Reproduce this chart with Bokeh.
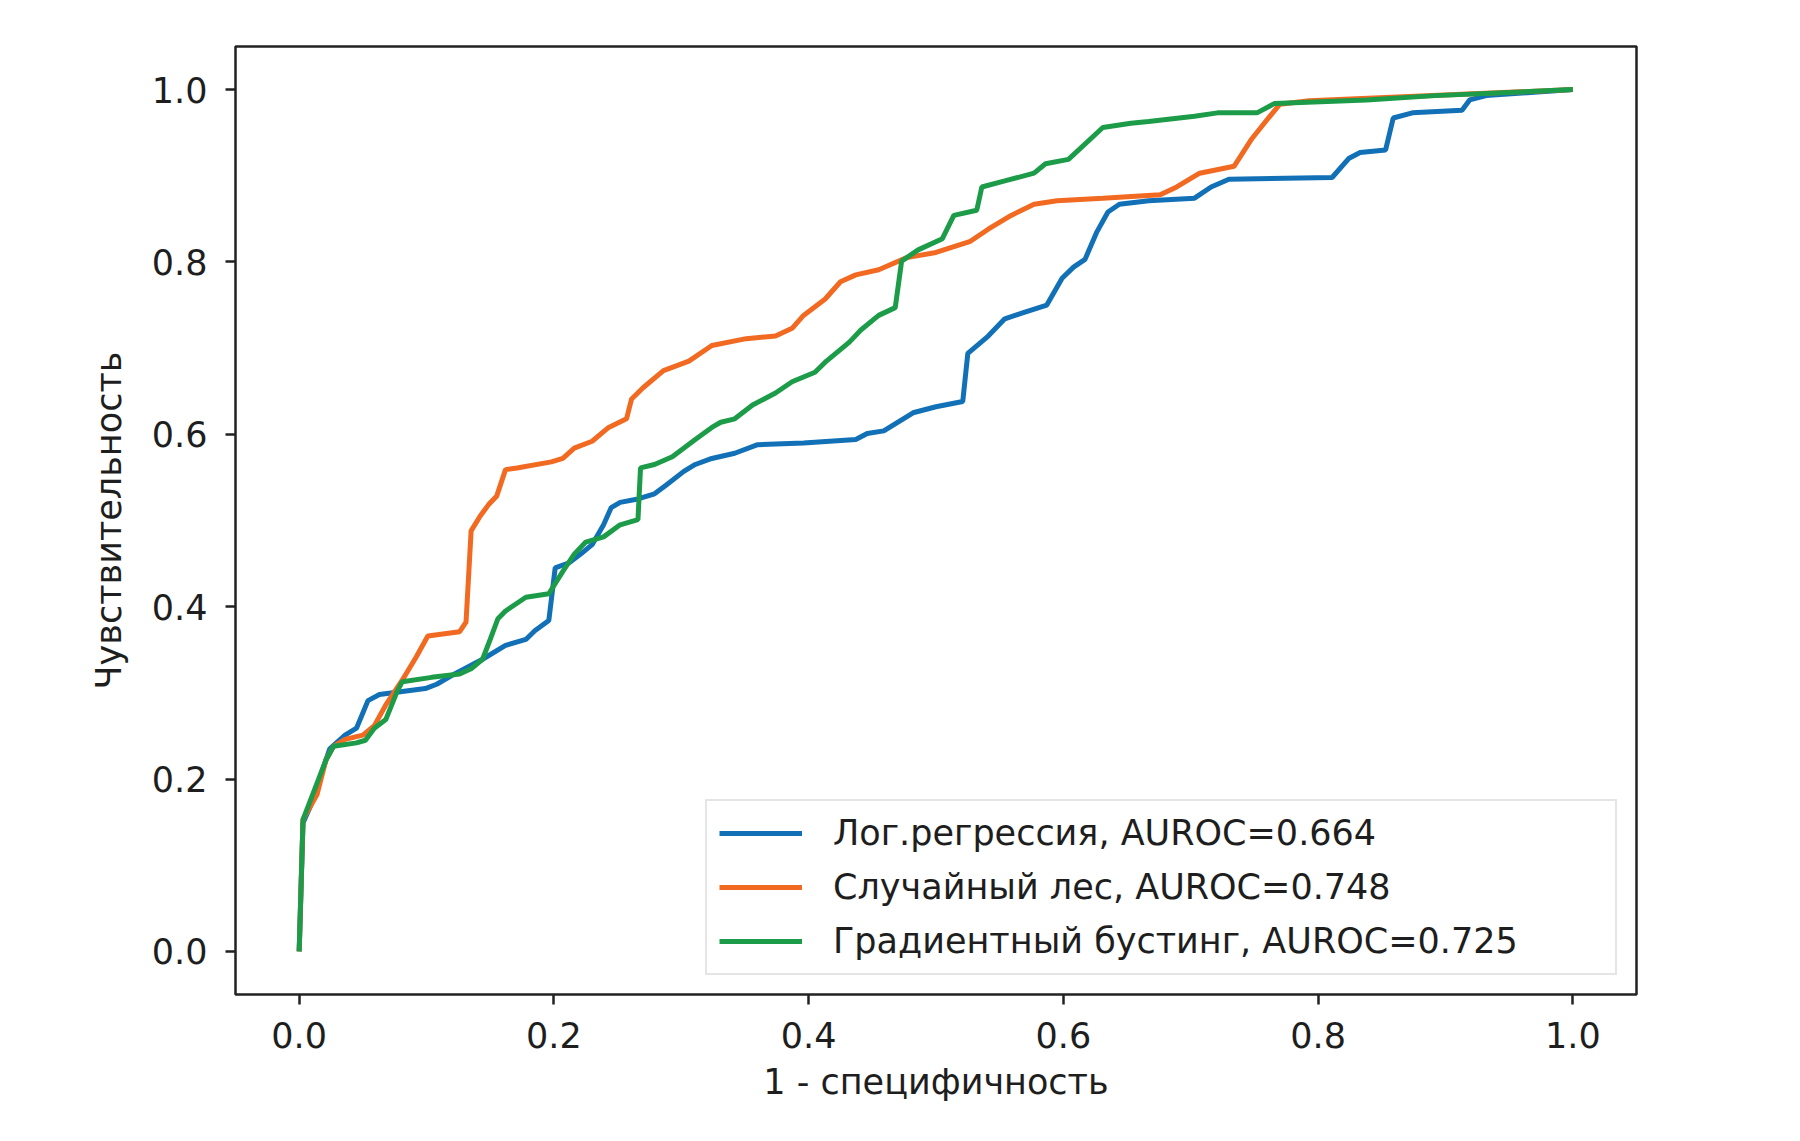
from bokeh.plotting import figure
from bokeh.models import FixedTicker, NumeralTickFormatter
from bokeh.embed import file_html
from bokeh.resources import INLINE

# ---- data ----
lr_fpr = [0.0, 0.003, 0.009, 0.018, 0.024, 0.036, 0.045, 0.054, 0.063, 0.099, 0.108, 0.122, 0.144, 0.162,
          0.178, 0.185, 0.196, 0.201, 0.212, 0.221, 0.23, 0.239, 0.245, 0.252, 0.266, 0.279, 0.288, 0.302,
          0.311, 0.324, 0.342, 0.36, 0.396, 0.437, 0.446, 0.459, 0.482, 0.5, 0.521, 0.525, 0.541, 0.554,
          0.568, 0.587, 0.599, 0.608, 0.617, 0.626, 0.635, 0.644, 0.667, 0.703, 0.716, 0.73, 0.811, 0.824,
          0.833, 0.853, 0.859, 0.874, 0.913, 0.919, 0.932, 1.0]
lr_tpr = [0.0, 0.149, 0.169, 0.209, 0.235, 0.251, 0.259, 0.291, 0.298, 0.305, 0.31, 0.322, 0.339, 0.355,
          0.362, 0.372, 0.384, 0.445, 0.451, 0.461, 0.472, 0.495, 0.515, 0.521, 0.525, 0.531, 0.541, 0.557,
          0.565, 0.572, 0.578, 0.588, 0.59, 0.594, 0.601, 0.604, 0.625, 0.632, 0.638, 0.694, 0.714, 0.734,
          0.741, 0.75, 0.781, 0.794, 0.803, 0.834, 0.858, 0.867, 0.871, 0.874, 0.887, 0.896, 0.898, 0.92,
          0.927, 0.93, 0.967, 0.973, 0.976, 0.988, 0.993, 1.0]

rf_fpr = [0.0, 0.003, 0.014, 0.021, 0.027, 0.036, 0.05, 0.059, 0.068, 0.081, 0.092, 0.101, 0.126, 0.131,
          0.135, 0.142, 0.149, 0.155, 0.162, 0.171, 0.198, 0.207, 0.216, 0.23, 0.243, 0.257, 0.261, 0.27,
          0.286, 0.306, 0.324, 0.351, 0.374, 0.387, 0.396, 0.413, 0.425, 0.437, 0.455, 0.477, 0.5, 0.527,
          0.541, 0.559, 0.577, 0.595, 0.631, 0.676, 0.689, 0.707, 0.734, 0.748, 0.761, 0.77, 0.793, 1.0]
rf_tpr = [0.0, 0.153, 0.182, 0.222, 0.238, 0.246, 0.251, 0.262, 0.286, 0.315, 0.342, 0.366, 0.371, 0.382,
          0.488, 0.505, 0.519, 0.528, 0.559, 0.561, 0.568, 0.572, 0.584, 0.592, 0.608, 0.618, 0.641, 0.654,
          0.674, 0.685, 0.703, 0.711, 0.714, 0.723, 0.738, 0.757, 0.777, 0.785, 0.791, 0.805, 0.811, 0.824,
          0.838, 0.854, 0.867, 0.871, 0.874, 0.878, 0.887, 0.903, 0.911, 0.943, 0.967, 0.983, 0.987, 1.0]

gb_fpr = [0.0, 0.003, 0.021, 0.027, 0.045, 0.052, 0.059, 0.068, 0.077, 0.081, 0.104, 0.126, 0.135, 0.144,
          0.15, 0.156, 0.162, 0.171, 0.178, 0.196, 0.207, 0.216, 0.225, 0.239, 0.252, 0.266, 0.268, 0.279,
          0.293, 0.311, 0.324, 0.331, 0.342, 0.356, 0.374, 0.387, 0.405, 0.414, 0.432, 0.441, 0.455, 0.468,
          0.473, 0.486, 0.505, 0.514, 0.532, 0.536, 0.554, 0.577, 0.586, 0.604, 0.631, 0.653, 0.667, 0.703,
          0.721, 0.752, 0.766, 0.838, 0.892, 1.0]
gb_tpr = [0.0, 0.153, 0.222, 0.238, 0.242, 0.245, 0.259, 0.269, 0.302, 0.313, 0.318, 0.322, 0.328, 0.339,
          0.362, 0.386, 0.395, 0.404, 0.411, 0.415, 0.441, 0.461, 0.475, 0.481, 0.495, 0.501, 0.561, 0.565,
          0.574, 0.594, 0.608, 0.614, 0.618, 0.634, 0.648, 0.661, 0.672, 0.685, 0.707, 0.721, 0.738, 0.747,
          0.801, 0.814, 0.827, 0.854, 0.86, 0.887, 0.894, 0.903, 0.914, 0.919, 0.956, 0.961, 0.963, 0.969,
          0.973, 0.973, 0.984, 0.988, 0.993, 1.0]

labels = ["Лог.регрессия, AUROC=0.664",
          "Случайный лес, AUROC=0.748",
          "Градиентный бустинг, AUROC=0.725"]
colors = ["#1170b6", "#f26a21", "#1c9c48"]
ticks = [0.0, 0.2, 0.4, 0.6, 0.8, 1.0]
x_title = "1 - специфичность"
y_title = "Чувствительность"

FONT = "DejaVu Sans"
FS = "35px"
TXT = "#1e1e1e"

p = figure(frame_width=1401, frame_height=948,
           min_border_left=235, min_border_right=148, min_border_top=46, min_border_bottom=131,
           x_range=(-0.05, 1.05), y_range=(-0.05, 1.05),
           output_backend="svg", toolbar_location=None)

series = [(lr_fpr, lr_tpr), (rf_fpr, rf_tpr), (gb_fpr, gb_tpr)]
for (xs, ys), lab, col in zip(series, labels, colors):
    p.line(xs, ys, line_color=col, line_width=5, legend_label=lab)

p.background_fill_color = "white"
p.border_fill_color = "white"
p.outline_line_color = "#222222"
p.outline_line_width = 2.5
p.xgrid.visible = False
p.ygrid.visible = False

for ax in (p.xaxis[0], p.yaxis[0]):
    ax.ticker = FixedTicker(ticks=ticks)
    ax.formatter = NumeralTickFormatter(format="0.0")
    ax.axis_line_color = None
    ax.major_tick_in = 0
    ax.major_tick_out = 10
    ax.major_tick_line_color = "#222222"
    ax.major_tick_line_width = 2.5
    ax.minor_tick_line_color = None
    ax.major_label_text_font = FONT
    ax.major_label_text_font_size = FS
    ax.major_label_text_color = TXT
    ax.axis_label_text_font = FONT
    ax.axis_label_text_font_size = FS
    ax.axis_label_text_font_style = "normal"
    ax.axis_label_text_color = TXT

p.xaxis.axis_label = x_title
p.yaxis.axis_label = y_title
p.xaxis.major_label_standoff = 17
p.xaxis.axis_label_standoff = 11
p.yaxis.major_label_standoff = 18
p.yaxis.axis_label_standoff = 20

lg = p.legend[0]
lg.location = "bottom_right"
lg.margin = 19
lg.padding = 12
lg.spacing = 14
lg.glyph_width = 83
lg.glyph_height = 40
lg.label_height = 40
lg.label_standoff = 31
lg.label_width = 770
lg.label_text_font = FONT
lg.label_text_font_size = FS
lg.label_text_color = TXT
lg.border_line_color = "#cccccc"
lg.border_line_width = 2
lg.background_fill_color = "white"
lg.background_fill_alpha = 0.85

open("out.html", "w").write(file_html(p, INLINE))
